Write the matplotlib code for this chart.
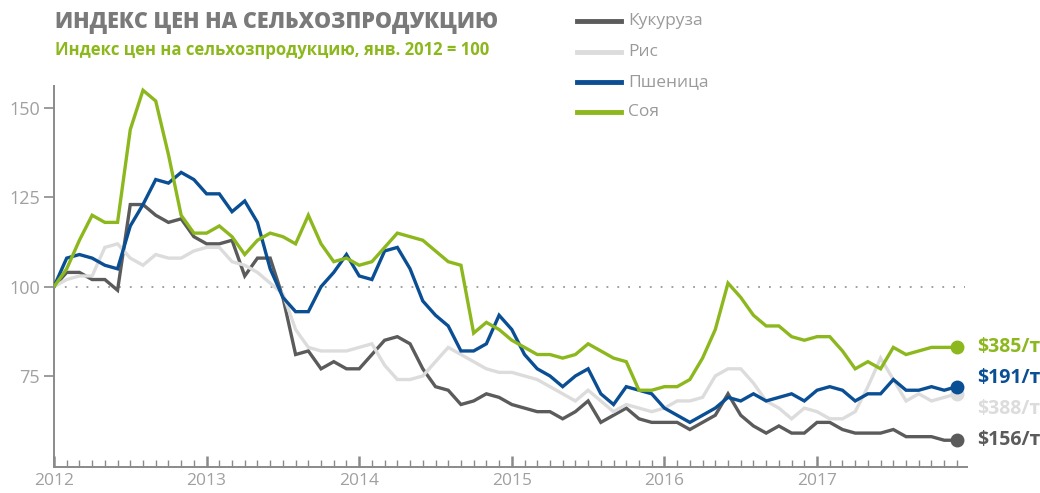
import matplotlib
matplotlib.use('Agg')
import matplotlib.pyplot as plt
import numpy as np

plt.rcParams['font.family'] = ['Open Sans', 'Noto Sans', 'DejaVu Sans']

# помесячные значения, янв. 2012 = 100 (янв. 2012 - дек. 2017)
years = ['2012', '2013', '2014', '2015', '2016', '2017']
series_names = ['Кукуруза', 'Рис', 'Пшеница', 'Соя']
price_labels = ['$156/т', '$388/т', '$191/т', '$385/т']

corn = [100, 104, 104, 102, 102, 99, 123, 123, 120, 118, 119, 114,
        112, 112, 113, 103, 108, 108, 97, 81, 82, 77, 79, 77,
        77, 81, 85, 86, 84, 77, 72, 71, 67, 68, 70, 69,
        67, 66, 65, 65, 63, 65, 68, 62, 64, 66, 63, 62,
        62, 62, 60, 62, 64, 70, 64, 61, 59, 61, 59, 59,
        62, 62, 60, 59, 59, 59, 60, 58, 58, 58, 57, 57]
rice = [100, 102, 103, 103, 111, 112, 108, 106, 109, 108, 108, 110,
        111, 111, 107, 106, 104, 101, 98, 88, 83, 82, 82, 82,
        83, 84, 78, 74, 74, 75, 79, 83, 81, 79, 77, 76,
        76, 75, 74, 72, 70, 68, 71, 68, 65, 67, 66, 65,
        66, 68, 68, 69, 75, 77, 77, 73, 68, 66, 63, 66,
        65, 63, 63, 65, 72, 80, 74, 68, 70, 68, 69, 70]
wheat = [100, 108, 109, 108, 106, 105, 117, 123, 130, 129, 132, 130,
         126, 126, 121, 124, 118, 105, 97, 93, 93, 100, 104, 109,
         103, 102, 110, 111, 105, 96, 92, 89, 82, 82, 84, 92,
         88, 81, 77, 75, 72, 75, 77, 70, 67, 72, 71, 70,
         66, 64, 62, 64, 66, 69, 68, 70, 68, 69, 70, 68,
         71, 72, 71, 68, 70, 70, 74, 71, 71, 72, 71, 72]
soy = [100, 105, 113, 120, 118, 118, 144, 155, 152, 137, 120, 115,
       115, 117, 114, 109, 113, 115, 114, 112, 120, 112, 107, 108,
       106, 107, 111, 115, 114, 113, 110, 107, 106, 87, 90, 88,
       85, 83, 81, 81, 80, 81, 84, 82, 80, 79, 71, 71,
       72, 72, 74, 80, 88, 101, 97, 92, 89, 89, 86, 85,
       86, 86, 82, 77, 79, 77, 83, 81, 82, 83, 83, 83]

colors = ['#5b5b5b', '#dcdcdc', '#0a4e94', '#8cb81e']
label_y = [57.2, 65.8, 74.4, 83.0]

fig = plt.figure(figsize=(10.4, 4.93), dpi=100)
ax = fig.add_axes([0.0519, 0.0527, 0.878, 0.7729])

x = np.arange(len(corn))
all_series = [corn, rice, wheat, soy]

ax.plot([0, 71.6], [100, 100], color='#999999', lw=1.3, linestyle=(0, (1, 5)), zorder=1)

for vals, c in zip(all_series, colors):
    ax.plot(x, vals, color=c, lw=2.4, solid_joinstyle='miter', zorder=3)

# точки и подписи цен в конце линий
for vals, c, lab, ly in zip(all_series, colors, price_labels, label_y):
    ax.plot(x[-1], vals[-1], 'o', color=c, markersize=9, zorder=4, clip_on=False)
    ax.text(72.6, ly, lab, color=c, fontsize=14, fontweight='bold',
            va='center', ha='left', clip_on=False)

ax.set_xlim(0, 71.8)
ax.set_ylim(49.5, 156.2)

for s in ['top', 'right']:
    ax.spines[s].set_visible(False)
for s in ['left', 'bottom']:
    ax.spines[s].set_color('#8a8a8a')
    ax.spines[s].set_linewidth(1.4)

ax.set_yticks([75, 100, 125, 150])
ax.tick_params(axis='y', direction='out', length=7, width=1.2, color='#8a8a8a',
               labelcolor='#a0a0a0', labelsize=13, pad=3)

ax.set_xticks(np.arange(0, 72, 12))
ax.set_xticklabels(years)
ax.set_xticks(np.arange(0, 72), minor=True)
ax.tick_params(axis='x', which='major', direction='in', length=8, width=1.8,
               color='#8a8a8a', labelcolor='#a0a0a0', labelsize=12.5, pad=4)
ax.tick_params(axis='x', which='minor', direction='in', length=5, width=1.0,
               color='#8a8a8a')

# заголовки
fig.text(0.053, 0.955, 'ИНДЕКС ЦЕН НА СЕЛЬХОЗПРОДУКЦИЮ', color='#7a7a7a',
         fontsize=15.5, fontweight='heavy', va='center', ha='left')
fig.text(0.053, 0.898, 'Индекс цен на сельхозпродукцию, янв. 2012 = 100',
         color='#8cb81e', fontsize=12, fontweight='bold', va='center', ha='left')

# легенда
leg_y = [0.958, 0.894, 0.833, 0.772]
for name, c, ly in zip(series_names, colors, leg_y):
    fig.add_artist(plt.Line2D([0.555, 0.597], [ly, ly], color=c, lw=3.5,
                              transform=fig.transFigure))
    fig.text(0.604, ly, name, color='#9a9a9a', fontsize=12.5, va='center', ha='left')

plt.savefig('out.png', dpi=100)
plt.close()
